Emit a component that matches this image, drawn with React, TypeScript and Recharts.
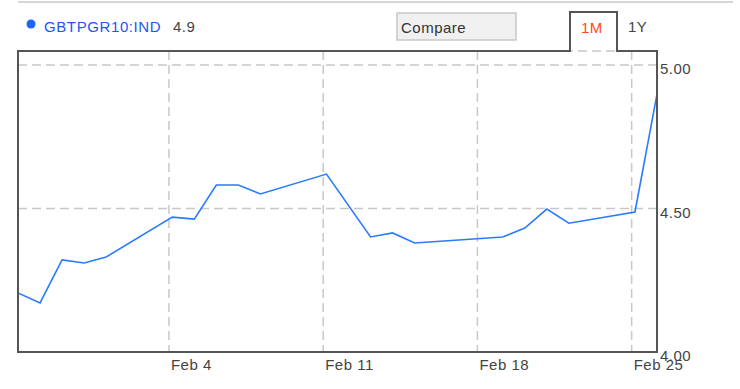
import React from "react";
import { LineChart, Line, XAxis, YAxis, CartesianGrid } from "recharts";

// Trading days counted from Jan 28 (day 0)
const days = [0, 1, 2, 3, 4, 7, 8, 9, 10, 11, 14, 16, 17, 18, 22, 23, 24, 25, 28, 29];
const yields = [4.206, 4.171, 4.321, 4.31, 4.331, 4.47, 4.463, 4.582, 4.582, 4.551, 4.62, 4.401, 4.415, 4.38, 4.401, 4.432, 4.498, 4.449, 4.488, 4.899];
const tickDays = [7, 14, 21, 28];
const tickLabels = ["Feb 4", "Feb 11", "Feb 18", "Feb 25"];
const yTicks = [4.0, 4.5, 5.0];
const CLOSE_FRACTION = 0.15; // quote time within the day

const seriesName = "GBTPGR10:IND";
const lastValue = "4.9";

const data = days.map((d, i) => ({ t: d + CLOSE_FRACTION, v: yields[i] }));

const FONT = "'Liberation Sans', Arial, sans-serif";

const XTick = (props: any) => {
  const { x, payload } = props;
  const idx = tickDays.indexOf(payload.value);
  return (
    <text x={x + 2} y={370} fill="#444" fontSize={15} fontFamily={FONT} letterSpacing={0.5} textAnchor="start">
      {tickLabels[idx]}
    </text>
  );
};

const YTick = (props: any) => {
  const { y, payload } = props;
  return (
    <text x={660} y={y + 9} fill="#444" fontSize={15} fontFamily={FONT} letterSpacing={0.5} textAnchor="start">
      {Number(payload.value).toFixed(2)}
    </text>
  );
};

export default function App() {
  return (
    <div style={{ position: "absolute", left: 0, top: 0, width: 740, height: 389, background: "#fff" }}>
      <LineChart width={740} height={389} data={data} margin={{ top: 51, right: 0, bottom: 0, left: 18 }}>
        <CartesianGrid stroke="#c8c8c8" strokeWidth={1.5} strokeDasharray="9 5" />
        <XAxis
          dataKey="t"
          type="number"
          domain={[CLOSE_FRACTION, 29 + CLOSE_FRACTION]}
          ticks={tickDays}
          tick={<XTick />}
          tickLine={false}
          axisLine={false}
          height={37}
          allowDataOverflow
        />
        <YAxis
          orientation="right"
          type="number"
          domain={[4, 5.049]}
          ticks={yTicks}
          tick={<YTick />}
          tickLine={false}
          axisLine={false}
          width={83}
          allowDataOverflow
        />
        <Line type="linear" dataKey="v" stroke="#2a7bff" strokeWidth={1.6} dot={false} isAnimationActive={false} />
      </LineChart>
      <svg width={740} height={389} style={{ position: "absolute", left: 0, top: 0, pointerEvents: "none" }}>
        <line x1={18} y1={2} x2={733} y2={2} stroke="#c8c8c8" strokeWidth={1.5} />
        <path d="M18,352 L18,51 L570,51 L570,12 L617,12 L617,51 L657,51 L657,352 Z" fill="none" stroke="#555" strokeWidth={2} />
        <circle cx={31} cy={24} r={4.5} fill="#1a66ff" />
        <text x={44} y={32} fill="#2256f0" fontSize={15} fontFamily={FONT} letterSpacing={0.6}>{seriesName}</text>
        <text x={173} y={32} fill="#444" fontSize={15} fontFamily={FONT} letterSpacing={0.5}>{lastValue}</text>
        <rect x={397} y={13} width={119} height={27} fill="#f0f0f0" stroke="#c8c8c8" strokeWidth={1.5} />
        <text x={401} y={33} fill="#333" fontSize={15} fontFamily={FONT} letterSpacing={0.5}>Compare</text>
        <text x={581} y={33} fill="#ff4a10" fontSize={15} fontFamily={FONT} letterSpacing={0.5}>1M</text>
        <text x={628} y={32} fill="#444" fontSize={15} fontFamily={FONT} letterSpacing={0.5}>1Y</text>
      </svg>
    </div>
  );
}
